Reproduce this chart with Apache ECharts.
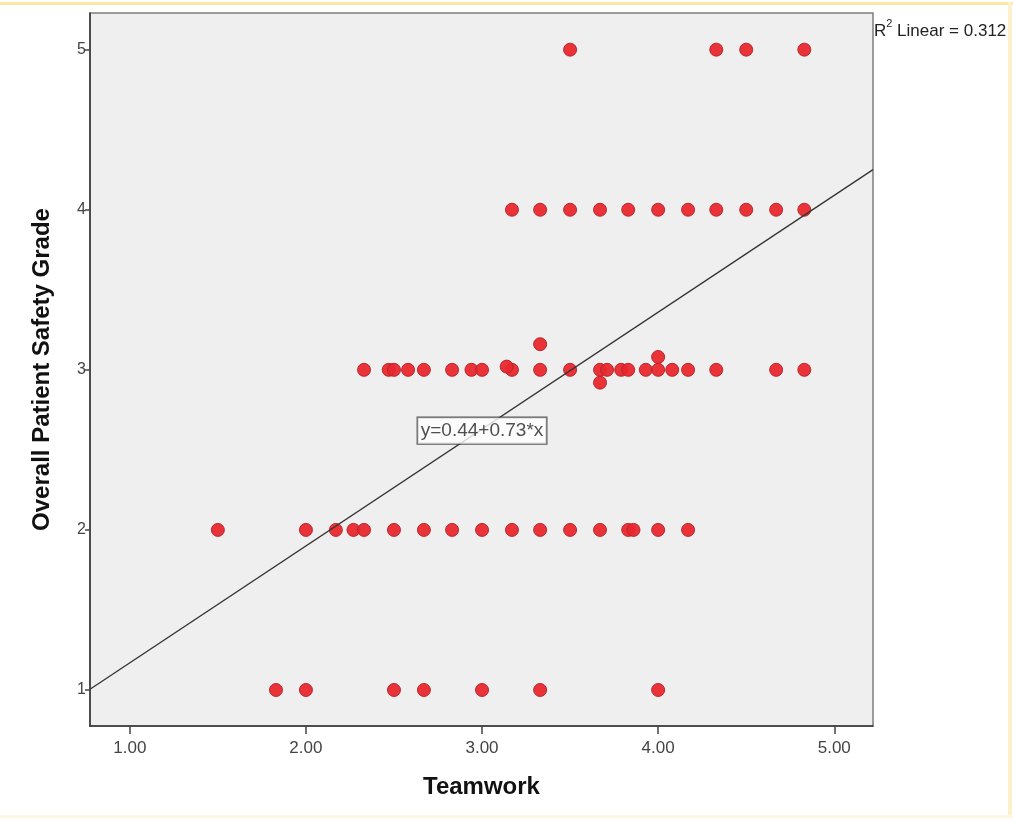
<!DOCTYPE html>
<html>
<head>
<meta charset="utf-8">
<title>Teamwork vs Overall Patient Safety Grade</title>
<script src="https://cdn.jsdelivr.net/npm/echarts@6/dist/echarts.min.js"></script>
<style>
  html, body { margin: 0; padding: 0; background: #ffffff; }
  #frame {
    position: absolute; left: 0; top: 0; width: 1013px; height: 822px;
    box-sizing: border-box; overflow: hidden;
  }
  #topline { position: absolute; left: 0; top: 2px; width: 1013px; height: 3px; background: #fbe7a6; }
  #rightline { position: absolute; left: 1008px; top: 2px; width: 4px; height: 816px; background: #fdf1cc; }
  #bottomline { position: absolute; left: 0; top: 815px; width: 1013px; height: 3px; background: #fcf7e6; }
  #chart { position: absolute; left: 0; top: 0; width: 1013px; height: 822px; }
</style>
</head>
<body>
<div id="frame">
  <div id="topline"></div>
  <div id="rightline"></div>
  <div id="bottomline"></div>
  <div id="chart"></div>
</div>
<script>
// Teamwork scores grouped by overall patient safety grade
const grade5Teamwork = [3.5, 4.33, 4.5, 4.83];
const grade4Teamwork = [3.17, 3.33, 3.5, 3.67, 3.83, 4.0, 4.17, 4.33, 4.5, 4.67, 4.83];
const grade3Teamwork = [2.33, 2.47, 2.5, 2.58, 2.67, 2.83, 2.94, 3.0, 3.17, 3.33, 3.5, 3.67, 3.71,
                        3.79, 3.83, 3.93, 4.0, 4.08, 4.17, 4.33, 4.67, 4.83];
const grade2Teamwork = [1.5, 2.0, 2.17, 2.27, 2.33, 2.5, 2.67, 2.83, 3.0, 3.17, 3.33, 3.5, 3.67,
                        3.83, 3.86, 4.0, 4.17];
const grade1Teamwork = [1.83, 2.0, 2.5, 2.67, 3.0, 3.33, 4.0];
// Cases whose grade is not a whole number
const otherPoints = [[3.14, 3.02], [3.33, 3.16], [3.67, 2.92], [4.0, 3.08]];

// Fit line and its summary
const intercept = 0.44;
const slope = 0.73;
const rSquared = 0.312;

const xTicks = [1, 2, 3, 4, 5];
const yTicks = [1, 2, 3, 4, 5];
const xRange = [0.774, 5.22];
const yRange = [0.775, 5.229];

function pairs(xs, y) { return xs.map(x => [x, y]); }
const points = []
  .concat(pairs(grade5Teamwork, 5))
  .concat(pairs(grade4Teamwork, 4))
  .concat(pairs(grade3Teamwork, 3))
  .concat(pairs(grade2Teamwork, 2))
  .concat(pairs(grade1Teamwork, 1))
  .concat(otherPoints);

const fitLine = xRange.map(x => [x, intercept + slope * x]);
const equationText = 'y=' + intercept.toFixed(2) + '+' + slope.toFixed(2) + '*x';

const chart = echarts.init(document.getElementById('chart'), null, { renderer: 'canvas' });
const FONT = '"Liberation Sans", Arial, sans-serif';

chart.setOption({
  animation: false,
  backgroundColor: 'transparent',
  grid: {
    left: 90, right: 140, top: 13, bottom: 96,
    show: true, backgroundColor: '#efefef', borderColor: '#7d7d7d', borderWidth: 1.5
  },
  xAxis: {
    type: 'value', min: xRange[0], max: xRange[1],
    name: 'Teamwork', nameLocation: 'middle', nameGap: 49,
    nameTextStyle: { fontFamily: FONT, fontWeight: 'bold', fontSize: 24, color: '#111' },
    axisLine: { show: true, onZero: false, lineStyle: { color: '#333', width: 1.5 } },
    axisTick: { show: true, length: 8, customValues: xTicks, lineStyle: { color: '#444', width: 1.5 } },
    axisLabel: {
      customValues: xTicks, margin: 14,
      formatter: v => Number(v).toFixed(2),
      fontFamily: FONT, fontSize: 17, color: '#444'
    },
    splitLine: { show: false }
  },
  yAxis: {
    type: 'value', min: yRange[0], max: yRange[1],
    name: 'Overall Patient Safety Grade', nameLocation: 'middle', nameGap: 36,
    nameTextStyle: { fontFamily: FONT, fontWeight: 'bold', fontSize: 24, color: '#111' },
    axisLine: { show: true, onZero: false, lineStyle: { color: '#333', width: 1.5 } },
    axisTick: { show: true, length: 5, customValues: yTicks, lineStyle: { color: '#444', width: 1.5 } },
    axisLabel: {
      customValues: yTicks, margin: 4,
      fontFamily: FONT, fontSize: 16, color: '#444'
    },
    splitLine: { show: false }
  },
  series: [
    {
      name: 'Fit line', type: 'line', data: fitLine, symbol: 'none',
      lineStyle: { color: '#333', width: 1.3 }, z: 3, silent: true
    },
    {
      name: 'Cases', type: 'scatter', data: points, symbolSize: 13,
      itemStyle: { color: '#e8282e', borderColor: '#b3232a', borderWidth: 1, opacity: 0.95 },
      z: 2
    },
    {
      name: 'Equation', type: 'scatter', data: [[3.0, 2.62]], symbolSize: 0, z: 5, silent: true,
      label: {
        show: true, position: 'inside', formatter: equationText,
        fontFamily: FONT, fontSize: 19, color: '#222',
        backgroundColor: '#ffffff', borderColor: '#333', borderWidth: 1.2,
        padding: [4, 3, 3, 3]
      }
    }
  ],
  graphic: [
    {
      type: 'text', left: 874, top: 18, z: 10,
      style: {
        text: '{b|R}{s|2}{b| Linear = ' + rSquared.toFixed(3) + '}',
        rich: {
          b: { fontFamily: FONT, fontSize: 17, fill: '#222', verticalAlign: 'bottom', lineHeight: 22 },
          s: { fontFamily: FONT, fontSize: 11, fill: '#222', verticalAlign: 'top', lineHeight: 22, padding: [0, 0, 9, 0] }
        }
      }
    }
  ]
});
</script>
</body>
</html>
